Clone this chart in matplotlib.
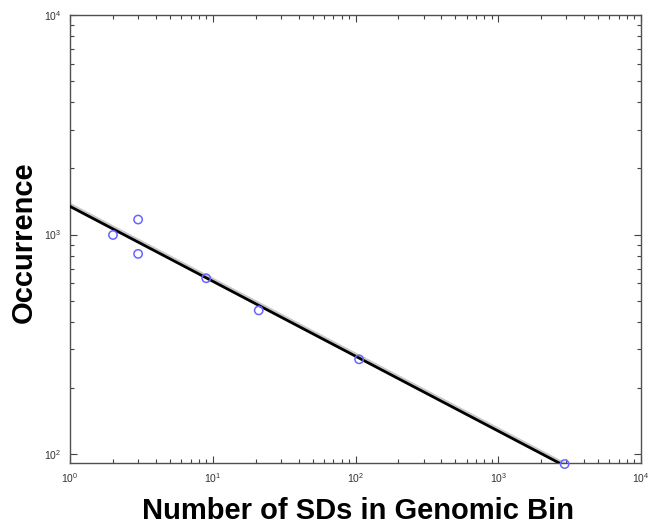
import matplotlib
matplotlib.use("Agg")
import matplotlib.pyplot as plt
from matplotlib.ticker import LogLocator, NullFormatter

plt.rcParams['font.family'] = ['Liberation Sans', 'DejaVu Sans']
plt.rcParams['mathtext.fontset'] = 'custom'
plt.rcParams['mathtext.rm'] = 'Liberation Sans'

# data points (number of SDs in bin, occurrence)
sd_counts = [2, 3, 3, 9, 21, 106, 2918]
occurrence = [995, 1170, 816, 632, 451, 270, 90]

# fitted power-law line end points
fit_x = [1.0, 2918]
fit_y = [1343, 88.3]

xlim = (1, 1e4)
ylim = (91, 1e4)

fig = plt.figure(figsize=(6.49, 5.29), dpi=100)
ax = fig.add_axes([70/649, 1 - 463/529, (641-70)/649, (463-15)/529])

ax.plot(fit_x, [y * 1.015 for y in fit_y], color='#c8c8c8', lw=3.0, zorder=2)
ax.plot(fit_x, fit_y, color='black', lw=2.0, zorder=3)
ax.scatter(sd_counts, occurrence, s=36, facecolors='none', edgecolors='#6666ff',
           linewidths=1.1, zorder=4, clip_on=False)

ax.set_xscale('log')
ax.set_yscale('log')
ax.set_xlim(*xlim)
ax.set_ylim(*ylim)

ax.xaxis.set_major_locator(LogLocator(base=10, numticks=10))
ax.yaxis.set_major_locator(LogLocator(base=10, numticks=10))
ax.xaxis.set_minor_locator(LogLocator(base=10, subs=range(2, 10), numticks=20))
ax.yaxis.set_minor_locator(LogLocator(base=10, subs=range(2, 10), numticks=20))
ax.xaxis.set_minor_formatter(NullFormatter())
ax.yaxis.set_minor_formatter(NullFormatter())

ax.tick_params(which='both', direction='in', top=True, right=True, colors='#404040',
               labelsize=7.5, labelcolor='#333333')
ax.tick_params(which='major', length=5, width=0.8, pad=6)
ax.tick_params(which='minor', length=3, width=0.8)
for s in ax.spines.values():
    s.set_color('#505050')
    s.set_linewidth(1.0)

fig.text(358/649, 1 - 511/529, 'Number of SDs in Genomic Bin', ha='center', va='center',
         fontsize=21, fontweight='bold')
fig.text(24/649, 1 - 242/529, 'Occurrence', ha='center', va='center', rotation=90,
         fontsize=21, fontweight='bold')

fig.savefig('out.png', dpi=100)
